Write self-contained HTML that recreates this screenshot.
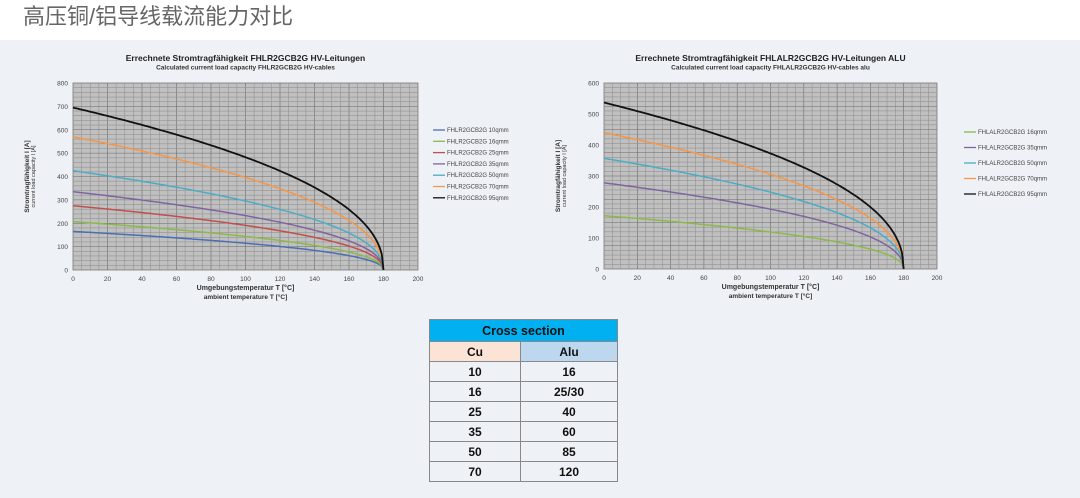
<!DOCTYPE html>
<html><head><meta charset="utf-8">
<style>
body{margin:0;width:1080px;height:498px;overflow:hidden;background:#fff;font-family:"Liberation Sans","Noto Sans CJK SC",sans-serif;}
#title{position:absolute;left:23px;top:2px;font-size:22px;color:#666;line-height:30px;}
#panel{position:absolute;left:0;top:40px;width:1080px;height:458px;background:#eef1f5;}
svg{position:absolute;left:0;top:0;}
table{position:absolute;left:429px;top:319px;border-collapse:collapse;width:189px;font-weight:bold;font-size:12px;color:#111;}
td{border:1px solid #888;text-align:center;height:19px;padding:0;}
</style></head><body>
<div id="panel"></div>
<div id="title">高压铜/铝导线载流能力对比</div>
<svg id="s" width="1080" height="498" font-family="Liberation Sans, sans-serif"></svg>
<table>
<tr><td colspan="2" style="background:#00b0f0;height:21px;font-size:12.5px">Cross section</td></tr>
<tr><td style="background:#fbe4d5;width:90px">Cu</td><td style="background:#bdd7ee">Alu</td></tr>
<tr><td>10</td><td>16</td></tr>
<tr><td>16</td><td>25/30</td></tr>
<tr><td>25</td><td>40</td></tr>
<tr><td>35</td><td>60</td></tr>
<tr><td>50</td><td>85</td></tr>
<tr><td>70</td><td>120</td></tr>
</table>
<script>
var s=document.getElementById('s'),h='';
function chart(x0,x1,y0,y1,ymax,step,series,t1,t2,lx,ly,lsp,lw){
 var W=x1-x0,H=y0-y1;
 h+='<rect x="'+x0+'" y="'+y1+'" width="'+W+'" height="'+H+'" fill="#c0c0c0" stroke="#777" stroke-width="0.8"/>';
 for(var i=1;i<40;i++){var x=x0+W*i/40;h+='<line x1="'+x+'" y1="'+y1+'" x2="'+x+'" y2="'+y0+'" stroke="'+(i%4==0?'#6a6a6a':'#939393')+'" stroke-width="0.6"/>';}
 for(var i=1;i<40;i++){var y=y0-H*i/40;h+='<line x1="'+x0+'" y1="'+y+'" x2="'+x1+'" y2="'+y+'" stroke="'+(i%5==0?'#6a6a6a':'#939393')+'" stroke-width="0.6"/>';}
 for(var v=0;v<=200;v+=20){h+='<text x="'+(x0+W*v/200)+'" y="'+(y0+11)+'" font-size="6.5" fill="#444" text-anchor="middle">'+v+'</text>';}
 for(var v=0;v<=ymax;v+=step){h+='<text x="'+(x0-5)+'" y="'+(y0-H*v/ymax+2.5)+'" font-size="6.5" fill="#444" text-anchor="end">'+v+'</text>';}
 var cx=(x0+x1)/2;
 h+='<text x="'+cx+'" y="'+(y0+20)+'" font-size="7" font-weight="bold" fill="#333" text-anchor="middle">Umgebungstemperatur T [°C]</text>';
 h+='<text x="'+cx+'" y="'+(y0+29)+'" font-size="6.5" font-weight="bold" fill="#333" text-anchor="middle">ambient temperature T [°C]</text>';
 h+='<text x="'+cx+'" y="61" font-size="8.5" font-weight="bold" fill="#222" text-anchor="middle">'+t1+'</text>';
 h+='<text x="'+cx+'" y="69.5" font-size="6.5" font-weight="bold" fill="#333" text-anchor="middle">'+t2+'</text>';
 var yy=(y0+y1)/2,xx=x0-44;
 h+='<text transform="translate('+xx+','+yy+') rotate(-90)" font-size="6.5" font-weight="bold" fill="#333" text-anchor="middle">Stromtragfähigkeit I [A]</text>';
 h+='<text transform="translate('+(xx+6)+','+yy+') rotate(-90)" font-size="5.5" fill="#333" text-anchor="middle">current load capacity I [A]</text>';
 series.forEach(function(sr,k){
  var d='';for(var T=0;T<=180;T+=1){var I=sr[0]*Math.pow((180-T)/180,0.45);d+=(T?'L':'M')+(x0+W*T/200).toFixed(1)+','+(y0-H*I/ymax).toFixed(1);}
  h+='<path d="'+d+'" fill="none" stroke="'+sr[1]+'" stroke-width="'+(sr[1]=='#111'?1.8:1.5)+'"/>';
  var ly2=ly+k*lsp;
  h+='<line x1="'+lx+'" y1="'+ly2+'" x2="'+(lx+12)+'" y2="'+ly2+'" stroke="'+sr[1]+'" stroke-width="1.3"/>';
  h+='<text x="'+(lx+14)+'" y="'+(ly2+2)+'" font-size="6" fill="#444">'+sr[2]+'</text>';
 });
}
chart(73,418,270,83,800,100,[[165,'#4a6fb5','FHLR2GCB2G 10qmm'],[207,'#8db84a','FHLR2GCB2G 16qmm'],[275,'#c0504d','FHLR2GCB2G 25qmm'],[335,'#8064a2','FHLR2GCB2G 35qmm'],[425,'#4bacc6','FHLR2GCB2G 50qmm'],[570,'#f79646','FHLR2GCB2G 70qmm'],[695,'#111','FHLR2GCB2G 95qmm']],'Errechnete Stromtragfähigkeit FHLR2GCB2G HV-Leitungen','Calculated current load capacity FHLR2GCB2G HV-cables',433,130,11.3);
chart(604,937,269,83,600,100,[[172,'#8db84a','FHLALR2GCB2G 16qmm'],[278,'#8064a2','FHLALR2GCB2G 35qmm'],[357,'#4bacc6','FHLALR2GCB2G 50qmm'],[440,'#f79646','FHLALR2GCB2G 70qmm'],[537,'#111','FHLALR2GCB2G 95qmm']],'Errechnete Stromtragfähigkeit FHLALR2GCB2G HV-Leitungen ALU','Calculated current load capacity FHLALR2GCB2G HV-cables alu',964,132,15.5);
s.innerHTML=h;
</script>
</body></html>
